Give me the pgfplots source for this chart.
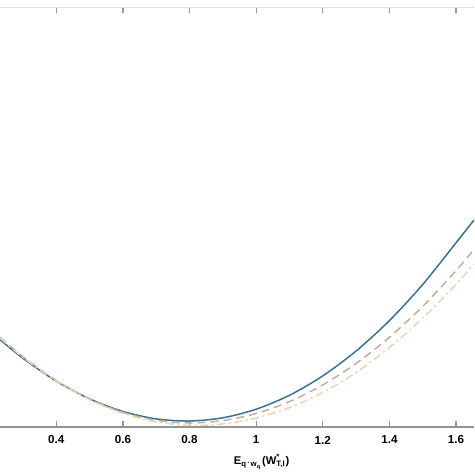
\documentclass[border=0pt]{standalone}
\usepackage{pgfplots}
\pgfplotsset{compat=1.18}
\usepackage{fontspec}
\setmainfont{Liberation Sans}

\definecolor{cblue}{HTML}{3A7092}
\definecolor{ctaupe}{HTML}{C4ACA2}
\definecolor{cbeige}{HTML}{E6D6AE}

\begin{document}
\begin{tikzpicture}
\path[use as bounding box] (0,-23.5pt) rectangle (237pt,213.5pt);
% lower axis with the curves
\begin{axis}[scale only axis,width=237pt,height=209.5pt,
	xmin=0.231,xmax=1.654,ymin=0,ymax=419,
	axis x line*=bottom,axis y line=none,
	x axis line style={-,draw=gray!85,line width=1pt},
	xtick={0.4,0.6,0.8,1,1.2,1.4,1.6},
	tick align=inside,major tick length=3pt,
	x tick style={gray!85,line width=0.6pt},
	/pgf/number format/assume math mode=true,
	xticklabel style={font=\fontsize{5.8}{7}\selectfont\bfseries,anchor=center,yshift=-6.5pt},
	xlabel={E\textsubscript{q\raisebox{0.3ex}{$\cdot$}w\textsubscript{q}}(W\rlap{\textsuperscript{*}}\textsubscript{T,l})},
	xlabel style={font=\fontsize{5.6}{7}\selectfont\bfseries,at={(rel axis cs:0.552,0)},anchor=center,yshift=-17.5pt},
	clip=true]
	\addplot[cblue,line width=0.75pt,smooth] coordinates {
		(0.231,87.4) (0.3,68.7) (0.4,45.8) (0.5,28.1) (0.6,15.5) (0.7,8.1)
		(0.8,6.0) (0.9,9.2) (1.0,17.8) (1.1,31.7) (1.2,51.1) (1.3,76.0)
		(1.4,106.4) (1.5,142.5) (1.6,184.2) (1.654,207)};
	\addplot[ctaupe,line width=0.75pt,smooth,dash pattern=on 4pt off 2.5pt] coordinates {
		(0.231,89.8) (0.3,70.3) (0.4,46.4) (0.5,27.9) (0.6,14.6) (0.7,6.7)
		(0.8,4.0) (0.9,6.4) (1.0,13.5) (1.1,25.4) (1.2,42.1) (1.3,63.5)
		(1.4,89.7) (1.5,120.6) (1.6,156.3) (1.654,177.6)};
	\addplot[cbeige,line width=0.75pt,smooth,dash pattern=on 4pt off 1.8pt on 1pt off 1.8pt] coordinates {
		(0.231,89.0) (0.3,69.6) (0.4,46.0) (0.5,27.3) (0.6,13.7) (0.7,5.1)
		(0.8,1.6) (0.9,3.0) (1.0,8.9) (1.1,19.4) (1.2,34.4) (1.3,54.5)
		(1.4,79.5) (1.5,108.8) (1.6,142.7) (1.654,163)};
\end{axis}
% upper frame line with its ticks
\begin{axis}[scale only axis,width=237pt,height=209.5pt,
	xmin=0.231,xmax=1.654,ymin=0,ymax=419,
	axis x line*=top,axis y line=none,
	x axis line style={-,draw=gray!25,line width=0.5pt},
	xtick={0.4,0.6,0.8,1,1.2,1.4,1.6},xticklabels={},
	tick align=inside,major tick length=2.5pt,
	x tick style={gray!80,line width=0.6pt}]
\end{axis}
\end{tikzpicture}
\end{document}
